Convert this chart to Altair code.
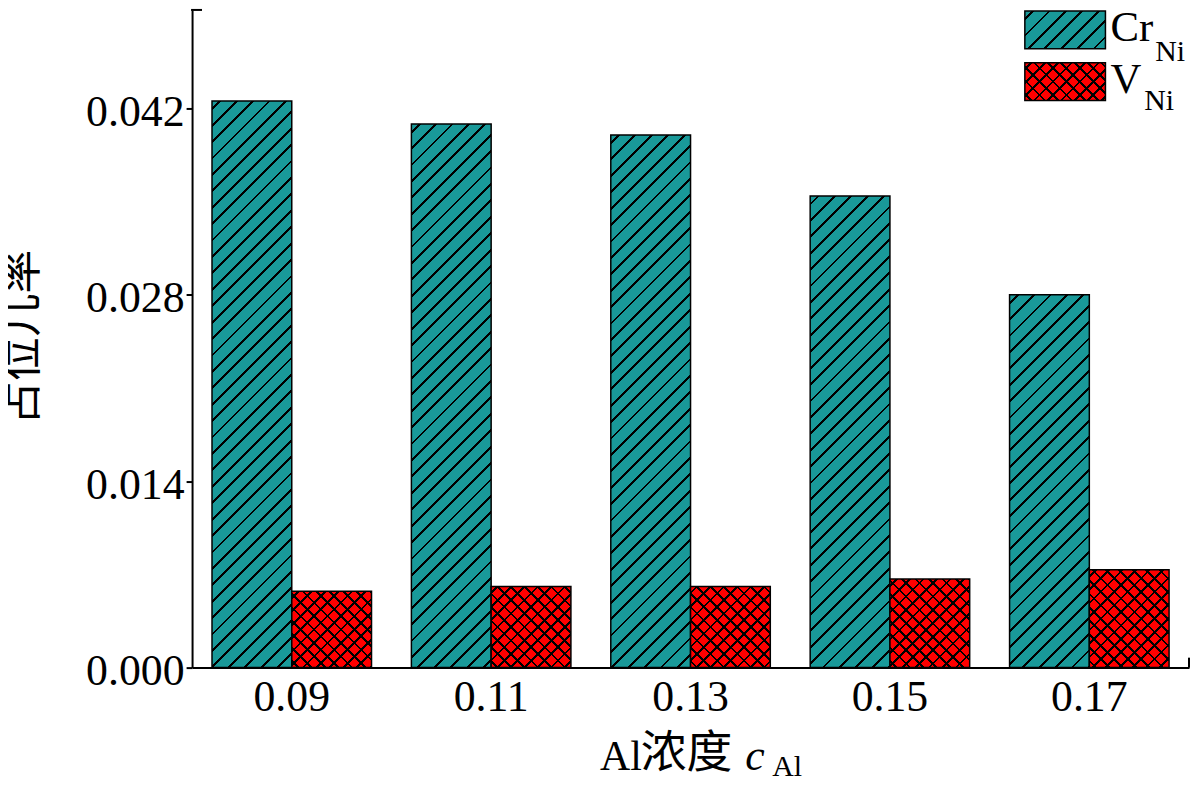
import math
import altair as alt
import pandas as pd

# ---------------- data ----------------
categories = ["0.09", "0.11", "0.13", "0.15", "0.17"]
cr_ni = [0.04256, 0.04083, 0.04001, 0.03542, 0.02800]
v_ni = [0.00573, 0.00610, 0.00610, 0.00665, 0.00735]
series = ["Cr", "V"]
y_ticks = [0.000, 0.014, 0.028, 0.042]
y_max = 0.0494

y_title = "占位几率"
x_title_main = "Al"
x_title_cjk = "浓度"
x_title_var = "c"
x_title_sub = "Al"
legend_main = ["Cr", "V"]
legend_sub = ["Ni", "Ni"]

# ---------------- layout / style ----------------
W, H = 1002, 661
PAD_IN, PAD_OUT = 0.2, 0.1
TEAL = "#199999"
RED = "#ff0000"
SERIF = "Liberation Serif"
CJK = "Noto Sans CJK SC"

step = W / (len(categories) - PAD_IN + 2 * PAD_OUT)
bar_w = step * (1 - PAD_IN) / 2


def hatch(w, h, period, lw, base, line, direction):
    """linear gradient with hard stops that draws 45deg hatch lines"""
    r = h / w
    a = (1 + r) / (1 + r * r)
    if direction == "/":
        x1, y1, x2, y2 = 0, 0, a, a * r
    else:
        x1, y1, x2, y2 = 0, 1, a, 1 - a * r
    S = w + h
    half = lw * math.sqrt(2) / 2 / S
    stops = [{"offset": 0, "color": base}]
    s = period / 2
    while s < S:
        t = s / S
        t0 = max(0.0, t - half)
        t1 = min(1.0, t + half)
        stops += [
            {"offset": round(t0, 5), "color": base},
            {"offset": round(t0, 5), "color": line},
            {"offset": round(t1, 5), "color": line},
            {"offset": round(t1, 5), "color": base},
        ]
        s += period
    stops.append({"offset": 1, "color": base})
    return {"gradient": "linear", "x1": x1, "y1": y1, "x2": x2, "y2": y2,
            "stops": stops}


rows = []
for c, a_, b_ in zip(categories, cr_ni, v_ni):
    rows.append({"c": c, "s": "Cr", "v": a_})
    rows.append({"c": c, "s": "V", "v": b_})
df = pd.DataFrame(rows)

x_enc = alt.X("c:N", sort=categories,
              scale=alt.Scale(domain=categories, paddingInner=PAD_IN, paddingOuter=PAD_OUT),
              axis=alt.Axis(title=None, labelFont=SERIF, labelFontSize=44, labelColor="black",
                            labelAngle=0, ticks=False, domainColor="black", domainWidth=2,
                            labelPadding=8, grid=False))
xo_enc = alt.XOffset("s:N", scale=alt.Scale(domain=series, paddingInner=0, paddingOuter=0))
y_enc = alt.Y("v:Q", scale=alt.Scale(domain=[0, y_max], nice=False, zero=True),
              axis=alt.Axis(title=None, values=y_ticks, format=".3f", labelFont=SERIF,
                            labelFontSize=44, labelColor="black", tickColor="black",
                            tickWidth=2, tickSize=6, domainColor="black", domainWidth=2,
                            labelPadding=2, labelOffset=4, grid=False))

CR_P, CR_LW = 16.5, 2.0
V_P, V_LW = 13.5, 1.9

layers = []
for c, a_, b_ in zip(categories, cr_ni, v_ni):
    hc = a_ / y_max * H
    hv = b_ / y_max * H
    layers.append(
        alt.Chart(df).transform_filter((alt.datum.c == c) & (alt.datum.s == "Cr"))
        .mark_bar(fill=hatch(bar_w, hc, CR_P, CR_LW, TEAL, "black", "/"),
                  stroke="black", strokeWidth=1.5)
        .encode(x=x_enc, xOffset=xo_enc, y=y_enc)
    )
    layers.append(
        alt.Chart(df).transform_filter((alt.datum.c == c) & (alt.datum.s == "V"))
        .mark_bar(fill=hatch(bar_w, hv, V_P, V_LW, RED, "black", "/"),
                  stroke="black", strokeWidth=1.5)
        .encode(x=x_enc, xOffset=xo_enc, y=y_enc)
    )
    layers.append(
        alt.Chart(df).transform_filter((alt.datum.c == c) & (alt.datum.s == "V"))
        .mark_bar(fill=hatch(bar_w, hv, V_P, V_LW, "rgba(0,0,0,0)", "black", "\\"),
                  strokeWidth=0)
        .encode(x=x_enc, xOffset=xo_enc, y=y_enc)
    )

one = pd.DataFrame({"k": [0]})

# frame caps
layers.append(alt.Chart(one).mark_rule(color="black", strokeWidth=2)
              .encode(x=alt.value(-1), x2=alt.value(10), y=alt.value(0)))
layers.append(alt.Chart(one).mark_rule(color="black", strokeWidth=2)
              .encode(x=alt.value(W), y=alt.value(H), y2=alt.value(H - 10)))

# legend boxes
LX, LW_, LH_ = 837, 81, 38
ly = [1, 53]
layers.append(alt.Chart(one).mark_rect(fill=hatch(LW_, LH_, CR_P, CR_LW, TEAL, "black", "/"),
                                       stroke="black", strokeWidth=1.5)
              .encode(x=alt.value(LX), x2=alt.value(LX + LW_), y=alt.value(ly[0]),
                      y2=alt.value(ly[0] + LH_)))
layers.append(alt.Chart(one).mark_rect(fill=hatch(LW_, LH_, V_P, V_LW, RED, "black", "/"),
                                       stroke="black", strokeWidth=1.5)
              .encode(x=alt.value(LX), x2=alt.value(LX + LW_), y=alt.value(ly[1]),
                      y2=alt.value(ly[1] + LH_)))
layers.append(alt.Chart(one).mark_rect(fill=hatch(LW_, LH_, V_P, V_LW, "rgba(0,0,0,0)", "black", "\\"),
                                       strokeWidth=0)
              .encode(x=alt.value(LX), x2=alt.value(LX + LW_), y=alt.value(ly[1]),
                      y2=alt.value(ly[1] + LH_)))


def txt(s, x, y, size, font=SERIF, style="normal", align="left", angle=0, baseline="alphabetic"):
    return (alt.Chart(one).mark_text(text=s, font=font, fontSize=size, fontStyle=style,
                                     align=align, baseline=baseline, angle=angle, color="black")
            .encode(x=alt.value(x), y=alt.value(y)))


# legend texts
layers.append(txt(legend_main[0], 923, 31, 43))
layers.append(txt(legend_sub[0], 968, 51, 30))
layers.append(txt(legend_main[1], 923, 83, 43))
layers.append(txt(legend_sub[1], 957, 101, 30))

# x title
layers.append(txt(x_title_main, 410, 764, 42))
layers.append(txt(x_title_cjk, 451, 762, 46, font=CJK))
layers.append(txt(x_title_var, 556, 764, 44, style="italic"))
layers.append(txt(x_title_sub, 583, 770, 30))

# y title
layers.append(txt(y_title, -170, 329, 44, font=CJK, align="center", angle=270, baseline="middle"))

chart = (alt.layer(*layers)
         .properties(width=W, height=H,
                     autosize=alt.AutoSizeParams(type="none"),
                     padding={"left": 185, "top": 0, "right": 3, "bottom": 110})
         .configure_view(strokeWidth=0))

chart.save("out.html", embed_options={"renderer": "svg", "actions": False})
